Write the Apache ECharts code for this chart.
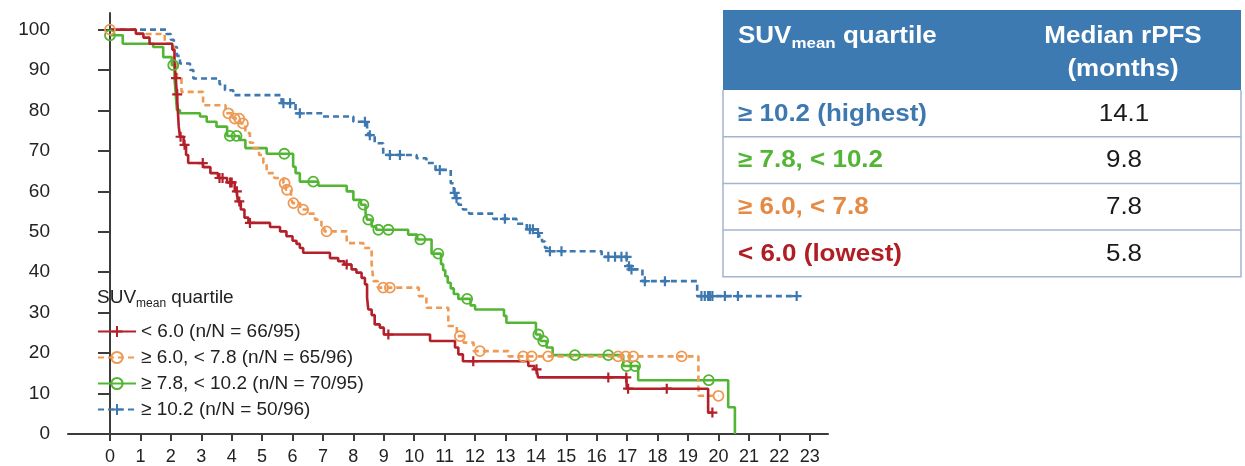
<!DOCTYPE html>
<html>
<head>
<meta charset="utf-8">
<script src="https://cdn.jsdelivr.net/npm/echarts@6/dist/echarts.min.js"></script>
<style>
  html, body { margin: 0; padding: 0; background: #fff; }
  #chart { width: 1245px; height: 466px; }
</style>
</head>
<body>
<div id="chart"></div>
<script>
// axis ticks
const xTicks = [0, 1, 2, 3, 4, 5, 6, 7, 8, 9, 10, 11, 12, 13, 14, 15, 16, 17, 18, 19, 20, 21, 22, 23]
const yTicks = [0, 10, 20, 30, 40, 50, 60, 70, 80, 90, 100]

const seriesNames = [
  '< 6.0 (n/N = 66/95)',
  '≥ 6.0, < 7.8 (n/N = 65/96)',
  '≥ 7.8, < 10.2 (n/N = 70/95)',
  '≥ 10.2 (n/N = 50/96)'
]

// < 6.0 : event times (months) / survival after the step (%) / censored times
const redTimes = [0, 0.85, 1.1, 1.3, 2.05, 2.12, 2.16, 2.2, 2.23, 2.26, 2.3, 2.42, 2.5, 2.57, 3.07, 3.3, 3.55, 3.85, 4.1, 4.2, 4.3, 4.42, 4.55, 5.26, 5.59, 5.8, 6.0, 6.13, 6.24, 6.35, 7.23, 7.5, 7.7, 7.94, 8.1, 8.27, 8.38, 8.45, 8.49, 8.6, 8.7, 8.87, 9.0, 10.52, 11.34, 11.45, 11.6, 13.75, 13.95, 14.07, 16.99, 19.66]
const redSurv = [100, 99, 98, 96.5, 95, 92, 88, 84, 80, 76, 73.5, 71.5, 69, 67, 66, 64.5, 63.3, 62.2, 60, 57.5, 55.5, 53.5, 52.2, 51.2, 50.1, 48.9, 47.8, 47, 46, 44.8, 43.5, 42.7, 41.9, 40.7, 39.9, 38.6, 37, 33.7, 30.8, 29.4, 27.1, 26.3, 24.6, 23, 21.4, 19.7, 18, 16.8, 16, 14, 11.2, 5.3]
const redCensor = [2.17, 2.21, 2.32, 2.45, 3.05, 3.6, 3.7, 3.95, 4.0, 4.17, 4.25, 4.6, 7.78, 9.15, 11.94, 14.02, 16.38, 16.97, 17.03, 18.3, 19.8]

// >= 6.0, < 7.8
const orangeTimes = [0, 0.88, 1.8, 2.1, 2.2, 2.35, 3.06, 3.8, 4.05, 4.3, 4.45, 4.6, 4.71, 4.9, 5.04, 5.15, 5.4, 5.7, 5.78, 5.95, 6.0, 6.25, 6.5, 6.74, 6.95, 7.05, 7.78, 8.33, 8.6, 8.66, 8.8, 10.15, 10.4, 11.12, 11.4, 11.62, 11.95, 13.1, 19.34]
const orangeSurv = [100, 98.9, 96.5, 92, 88, 84.6, 81.3, 79.3, 78, 76.8, 74.4, 72, 70.7, 69, 67, 64.5, 63.3, 62, 60.4, 58.5, 57.1, 55.5, 54.5, 53, 51.5, 50.1, 47.2, 46, 42, 37.8, 36.2, 34.1, 31.2, 26.7, 24.2, 22.6, 20.5, 19.2, 9.45]
const orangeCensor = [0, 3.89, 4.1, 4.25, 4.37, 5.74, 5.82, 6.03, 6.35, 7.12, 8.98, 9.2, 11.5, 12.16, 13.58, 13.86, 14.4, 16.7, 16.95, 17.2, 18.79, 20.0]

// >= 7.8, < 10.2
const greenTimes = [0, 0.42, 1.42, 1.75, 2.03, 2.12, 2.16, 2.2, 2.3, 2.96, 3.18, 3.5, 3.85, 4.25, 4.45, 5.15, 6.02, 6.1, 6.24, 6.85, 7.78, 8.0, 8.25, 8.4, 8.45, 8.6, 8.75, 9.8, 10.1, 10.57, 10.88, 10.95, 11.02, 11.1, 11.2, 11.3, 11.45, 11.85, 12.0, 12.95, 13.03, 14.0, 14.15, 14.35, 14.55, 16.87, 17.36, 20.32, 20.54]
const greenSurv = [98.6, 96.5, 95.7, 93.2, 91.2, 88, 84, 80.1, 79.3, 78.5, 77.2, 76, 73.7, 72.7, 70.7, 69.3, 66.1, 64.5, 62.4, 61.4, 60, 57.9, 56.7, 54.6, 53, 51.3, 50.5, 49.3, 48.1, 44.6, 42, 40.5, 39, 37.4, 36, 34.6, 33.4, 31.8, 30.8, 29.2, 27.5, 24.6, 23, 21.4, 19.5, 16.8, 13.3, 6.6, 0]
const greenCensor = [0, 2.08, 3.94, 4.16, 5.73, 6.68, 8.33, 8.49, 8.82, 9.15, 10.2, 10.79, 11.74, 14.08, 14.24, 15.28, 16.38, 16.98, 17.26, 19.68]

// >= 10.2
const blueTimes = [0, 1.86, 2.0, 2.1, 2.2, 2.3, 2.63, 2.74, 3.6, 3.78, 4.05, 5.64, 6.1, 7.0, 8.0, 8.45, 8.5, 8.7, 8.98, 10.08, 10.4, 10.7, 11.2, 11.3, 11.37, 11.45, 11.6, 11.8, 12.6, 13.36, 13.7, 14.03, 14.1, 14.2, 14.3, 14.38, 16.16, 17.02, 17.1, 17.5, 19.3]
const blueSurv = [100, 98.9, 97.5, 95.7, 93.5, 91.6, 90, 87.9, 86.5, 85, 83.8, 81.8, 79.3, 78.5, 77.2, 75, 73.9, 71.9, 69, 68.2, 67, 65.3, 62, 59.6, 58.3, 56.7, 55.5, 54.5, 53.2, 52, 50.6, 49.7, 48.9, 47.6, 46, 45.2, 43.8, 41.5, 40.7, 37.8, 34.1]
const blueCensor = [5.7, 5.92, 6.24, 8.38, 8.54, 9.2, 9.53, 10.84, 11.33, 11.39, 12.98, 13.8, 13.9, 14.07, 14.46, 14.84, 16.38, 16.6, 16.81, 16.98, 17.06, 17.14, 17.58, 18.24, 19.44, 19.55, 19.66, 19.72, 19.8, 20.21, 20.64, 22.57]

// median table
const tableGroups = ['≥ 10.2 (highest)', '≥ 7.8, < 10.2', '≥ 6.0, < 7.8', '< 6.0 (lowest)']
const tableMedians = ['14.1', '9.8', '7.8', '5.8']

const RED = '#b3202a'
const ORANGE = '#ee9a55'
const GREEN = '#53b534'
const BLUE = '#3d78b0'
const FONT = '"Liberation Sans", Arial, sans-serif'
const PLUS = 'path://M5,0L5,10M0,5L10,5'

// merge steps and censor marks into one step line; censor marks sit on the current level
function buildData(times, surv, censor) {
  const pts = times.map((t, i) => ({ value: [t, surv[i]], k: 0 }))
  censor.forEach((t) => {
    let v = surv[0]
    for (let i = 0; i < times.length; i++) if (times[i] <= t) v = surv[i]
    pts.push({ value: [t, v], k: 1 })
  })
  pts.sort((a, b) => a.value[0] - b.value[0] || a.k - b.k)
  return pts.map((p) => (p.k ? { value: p.value } : { value: p.value, symbol: 'none' }))
}

function curve(name, color, dashed, plus, times, surv, censor) {
  return {
    name,
    type: 'line',
    step: 'end',
    data: buildData(times, surv, censor),
    showSymbol: true,
    showAllSymbol: true,
    symbol: plus ? PLUS : 'circle',
    symbolSize: 10,
    symbolKeepAspect: true,
    color,
    lineStyle: { color, width: 2.6, type: dashed ? [6, 4] : 'solid' },
    itemStyle: {
      color: plus ? color : 'rgba(255,255,255,0)',
      borderColor: color,
      borderWidth: plus ? 2.2 : 1.8
    },
    emphasis: { disabled: true }
  }
}

const chart = echarts.init(document.getElementById('chart'))

const axisColor = '#3c3c3c'
const tableLeft = 723
const tableRight = 1241
const tableTop = 10
const headH = 80
const rowH = 46.7
const rowColors = [BLUE, GREEN, '#e58a45', '#b01e24']

const graphics = [
  {
    type: 'text',
    x: 97,
    y: 298,
    style: {
      text: '{a|SUV}{b|mean}{a| quartile}',
      verticalAlign: 'middle',
      rich: {
        a: { fontSize: 19, lineHeight: 24, fill: '#222', fontFamily: FONT },
        b: { fontSize: 12, verticalAlign: 'bottom', fill: '#222', fontFamily: FONT }
      }
    }
  },
  {
    type: 'rect',
    shape: { x: tableLeft, y: tableTop, width: tableRight - tableLeft, height: headH },
    style: { fill: '#3d7ab2' }
  },
  {
    type: 'text',
    x: 738,
    y: 37,
    scaleX: 1.13,
    style: {
      text: '{a|SUV}{b|mean}{a| quartile}',
      verticalAlign: 'middle',
      rich: {
        a: { fontSize: 23, fontWeight: 'bold', lineHeight: 28, fill: '#fff', fontFamily: FONT },
        b: { fontSize: 15, fontWeight: 'bold', verticalAlign: 'bottom', fill: '#fff', fontFamily: FONT }
      }
    }
  },
  {
    type: 'text',
    x: 1123,
    y: 37,
    scaleX: 1.13,
    style: { text: 'Median rPFS', fill: '#fff', fontSize: 23, fontWeight: 'bold', fontFamily: FONT, align: 'center', verticalAlign: 'middle' }
  },
  {
    type: 'text',
    x: 1123,
    y: 70,
    scaleX: 1.13,
    style: { text: '(months)', fill: '#fff', fontSize: 23, fontWeight: 'bold', fontFamily: FONT, align: 'center', verticalAlign: 'middle' }
  },
  {
    type: 'polyline',
    shape: { points: [[tableLeft, tableTop + headH], [tableLeft, tableTop + headH + 4 * rowH], [tableRight, tableTop + headH + 4 * rowH], [tableRight, tableTop + headH]] },
    style: { stroke: '#a3b4d0', lineWidth: 1.5, fill: null }
  }
]

tableGroups.forEach((g, i) => {
  const top = tableTop + headH + i * rowH
  if (i > 0) {
    graphics.push({
      type: 'line',
      shape: { x1: tableLeft, y1: top, x2: tableRight, y2: top },
      style: { stroke: '#a3b4d0', lineWidth: 1.5 }
    })
  }
  graphics.push({
    type: 'text',
    x: 738,
    y: top + rowH / 2 + 1,
    scaleX: 1.13,
    style: { text: g, fill: rowColors[i], fontSize: 23, fontWeight: 'bold', fontFamily: FONT, align: 'left', verticalAlign: 'middle' }
  })
  graphics.push({
    type: 'text',
    x: 1124,
    y: top + rowH / 2 + 1,
    scaleX: 1.13,
    style: { text: tableMedians[i], fill: '#1a1a1a', fontSize: 23, fontFamily: FONT, align: 'center', verticalAlign: 'middle' }
  })
})

const option = {
  animation: false,
  textStyle: { fontFamily: FONT },
  grid: { left: 68, right: 417, top: 13, bottom: 31 },
  legend: {
    orient: 'vertical',
    left: 92,
    top: 317,
    itemWidth: 38,
    itemHeight: 14,
    itemGap: 7,
    textStyle: { fontSize: 19, color: '#222', fontFamily: FONT },
    data: seriesNames
  },
  xAxis: {
    type: 'value',
    min: -1.38,
    max: 23.6,
    splitLine: { show: false },
    axisLine: { onZero: false, lineStyle: { color: axisColor, width: 2 } },
    axisTick: { customValues: xTicks, length: 7, lineStyle: { color: axisColor, width: 2 } },
    axisLabel: { customValues: xTicks, fontSize: 18, color: '#222', margin: 14 }
  },
  yAxis: {
    type: 'value',
    min: 0,
    max: 104.1,
    splitLine: { show: false },
    axisLine: { show: true, lineStyle: { color: axisColor, width: 2 } },
    axisTick: { show: true, customValues: yTicks, length: 12, lineStyle: { color: axisColor, width: 2 } },
    axisLabel: { customValues: yTicks, fontSize: 19, color: '#222', margin: 18 }
  },
  graphic: graphics,
  series: [
    curve(seriesNames[3], BLUE, true, true, blueTimes, blueSurv, blueCensor),
    curve(seriesNames[2], GREEN, false, false, greenTimes, greenSurv, greenCensor),
    curve(seriesNames[1], ORANGE, true, false, orangeTimes, orangeSurv, orangeCensor),
    curve(seriesNames[0], RED, false, true, redTimes, redSurv, redCensor)
  ]
}

chart.setOption(option)
</script>
</body>
</html>
